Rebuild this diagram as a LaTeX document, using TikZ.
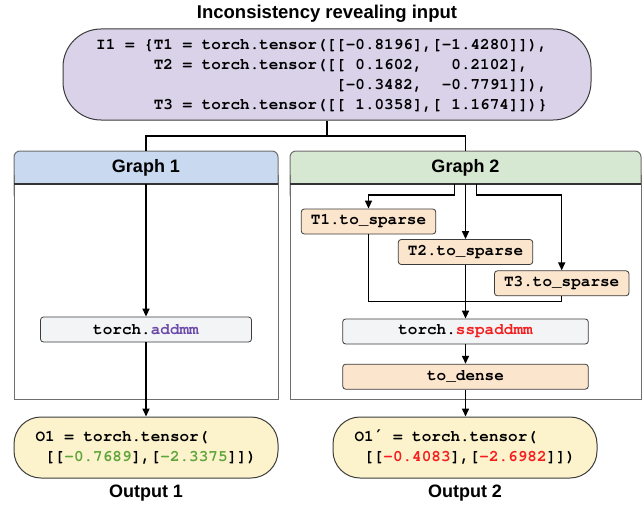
\documentclass[tikz,border=0pt]{standalone}
\usepackage{fontspec}
\setmainfont{Liberation Sans}
\setsansfont{Liberation Sans}
\setmonofont{texgyrecursor-regular.otf}[BoldFont=texgyrecursor-bold.otf]
\newfontfamily\primefont{DejaVu Sans Mono}
\usetikzlibrary{arrows.meta}

\definecolor{inputfill}{RGB}{217,210,233}
\definecolor{outfill}{RGB}{252,242,204}
\definecolor{hdrblue}{RGB}{201,218,240}
\definecolor{hdrgreen}{RGB}{214,232,210}
\definecolor{sparsefill}{RGB}{252,229,205}
\definecolor{opfill}{RGB}{243,244,246}
\definecolor{boxline}{RGB}{60,60,60}
\definecolor{panelgray}{RGB}{110,110,110}
\definecolor{addpurple}{RGB}{108,74,170}
\definecolor{sspred}{RGB}{245,30,30}
\definecolor{okgreen}{RGB}{95,165,60}

% code text: bold monospace, 16pt on 20pt lines
\newcommand\codefont{\ttfamily\bfseries\fontsize{16}{20}\selectfont}
\newcommand\hdrfont{\sffamily\bfseries\fontsize{18}{22}\selectfont}
% run of blank character cells in the monospace font
\newcommand\codegap[1]{\hspace*{#1\fontcharwd\font`0}}
% coloured fragment inside code
\newcommand\numtxt[2]{{\color{#1}#2}}
% prime sign, taken from a font that has it
\newcommand\codeprime{{\primefont\bfseries ′}}

\tikzset{
  wire/.style={line width=1.5pt, draw=black},
  arrow/.style={wire, -{Triangle[length=8pt,width=7pt]}},
  codebox/.style={draw=boxline, line width=0.8pt, rounded corners=3pt,
    inner sep=0pt, minimum height=25pt, font=\codefont},
  opbox/.style={codebox, fill=opfill},
  sparsebox/.style={codebox, fill=sparsefill},
  stadium/.style={draw=boxline, line width=1pt, inner sep=0pt},
  hdrtext/.style={font=\hdrfont, inner sep=0pt, minimum height=33pt},
  caption/.style={font=\hdrfont, inner sep=0pt},
  panelline/.style={draw=panelgray, line width=1pt},
  sepline/.style={draw=black!80, line width=1.3pt},
}

\begin{document}
\begin{tikzpicture}[x=1pt,y=-1pt]
\useasboundingbox (0,0) rectangle (644,508);

% ---- title and input ----
\node[caption, font=\sffamily\bfseries\fontsize{18.5}{22}\selectfont] (title) at (327,14) {Inconsistency revealing input};

\node[stadium, fill=inputfill, rounded corners=38pt,
      minimum width=528pt, minimum height=91pt] (in) at (327,74.5) {};
\node[font=\codefont, align=left, inner sep=0pt, anchor=west] (intext) at (96,76)
 {I1 = \{T1 = torch.tensor([[-0.8196],[-1.4280]]),\\
  \codegap{6}T2 = torch.tensor([[ 0.1602,\codegap{3}0.2102],\\
  \codegap{25}[-0.3482,\codegap{2}-0.7791]]),\\
  \codegap{6}T3 = torch.tensor([[ 1.0358],[ 1.1674]])\}};

% ---- Graph 1 panel ----
\draw[panelline, fill=hdrblue, rounded corners=6pt] (14,151) rectangle (278,200);
\fill[white] (14,184) rectangle (278,399);
\draw[panelline] (14,175) -- (14,399) -- (278,399) -- (278,175);
\draw[sepline] (14,184) -- (278,184);
\node[hdrtext, minimum width=264pt] (h1) at (146,167.5) {Graph 1};

% ---- Graph 2 panel ----
\draw[panelline, fill=hdrgreen, rounded corners=6pt] (290,151) rectangle (641,200);
\fill[white] (290,184) rectangle (641,399);
\draw[panelline] (290,175) -- (290,399) -- (641,399) -- (641,175);
\draw[sepline] (290,184) -- (641,184);
\node[hdrtext, minimum width=351pt] (h2) at (465.5,167.5) {Graph 2};

% ---- operation boxes ----
\node[opbox, minimum width=211pt] (add) at (146,329.5) {torch.\numtxt{addpurple}{addmm}};

\node[sparsebox, minimum width=134.5pt] (t1) at (368.5,221.5) {T1.to\_sparse};
\node[sparsebox, minimum width=134.5pt] (t2) at (465.5,252) {T2.to\_sparse};
\node[sparsebox, minimum width=134.5pt] (t3) at (561.7,283.3) {T3.to\_sparse};
\node[opbox, minimum width=245.6pt] (ssp) at (465.5,331.5) {torch.\numtxt{sspred}{sspaddmm}};
\node[sparsebox, minimum width=245.6pt] (dense) at (465.5,376.7) {to\_dense};

% ---- outputs ----
\node[stadium, fill=outfill, rounded corners=27pt, minimum width=264pt,
      minimum height=61pt, font=\codefont, align=left] (o1) at (146,447.5)
 {O1 = torch.tensor(\\\codegap{1}[[\numtxt{okgreen}{-0.7689}],[\numtxt{okgreen}{-2.3375}]])};
\node[stadium, fill=outfill, rounded corners=27pt, minimum width=264pt,
      minimum height=61pt, font=\codefont, align=left] (o2) at (465,447.5)
 {O1\codeprime{} = torch.tensor(\\\codegap{1}[[\numtxt{sspred}{-0.4083}],[\numtxt{sspred}{-2.6982}]])};

\node[caption] (cap1) at (146,493) {Output 1};
\node[caption] (cap2) at (465,493) {Output 2};

% ---- connectors ----
\coordinate (split) at (327,136);
\draw[wire] (in.south) -- (split);
\draw[wire] (h1.north) |- (split) -| (h2.north);

\draw[arrow] (h1.south) -- (add.north);
\draw[arrow] (add.south) -- (o1.north);

\draw[arrow] ([xshift=-11pt]h2.south) -- ++(0,11) -| (t1.north);
\draw[arrow] (h2.south) -- (t2.north);
\draw[arrow] ([xshift=11pt]h2.south) -- ++(0,11) -| (t3.north);
\coordinate (merge) at (465.5,301.7);
\draw[wire] (t1.south) |- (merge) -| (t3.south);
\draw[arrow] (t2.south) -- (ssp.north);
\draw[arrow] (ssp.south) -- (dense.north);
\draw[arrow] (dense.south) -- (o2.north -| dense.south);
\end{tikzpicture}
\end{document}
